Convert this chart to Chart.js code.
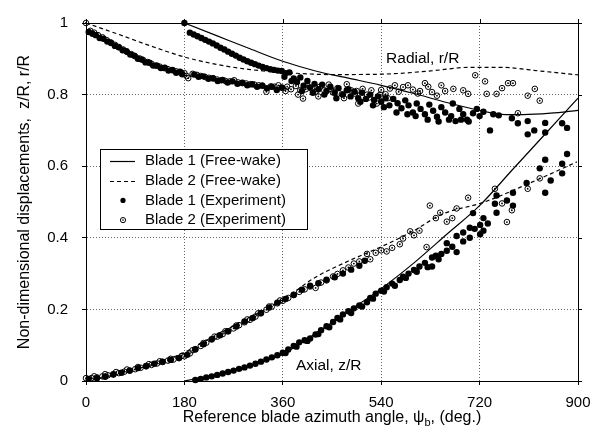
<!DOCTYPE html>
<html lang="en">
<head>
  <meta charset="UTF-8">
  <title>Blade tip displacements</title>
  <style>
    html, body { margin: 0; padding: 0; background: #fff; }
    .chartBox { width: 603px; height: 440px; position: relative; }
  </style>
</head>
<body>
  <div class="chartBox"><canvas id="wakeChart"></canvas></div>

  <script src="https://cdn.jsdelivr.net/npm/chart.js"></script>
  <script>
    // Axis ticks
    const angleTicks = [0, 180, 360, 540, 720, 900];
    const dispTicks = [0, 0.2, 0.4, 0.6, 0.8, 1];

    const legendLabels = ['Blade 1 (Free-wake)', 'Blade 2 (Free-wake)', 'Blade 1 (Experiment)', 'Blade 2 (Experiment)'];

    // Free-wake predictions
    const fw1RadialAngle = [180, 240, 300, 360, 420, 480, 540, 600, 660, 720, 760, 800, 850, 900];
    const fw1RadialDisp  = [1.0, 0.964, 0.928, 0.893, 0.866, 0.846, 0.826, 0.803, 0.778, 0.756, 0.745, 0.744, 0.748, 0.756];
    const fw2RadialAngle = [0, 60, 120, 180, 240, 300, 360, 450, 540, 630, 700, 760, 830, 900];
    const fw2RadialDisp  = [1.0, 0.968, 0.935, 0.905, 0.884, 0.870, 0.862, 0.856, 0.857, 0.866, 0.876, 0.876, 0.866, 0.855];
    const fw1AxialAngle  = [180, 240, 300, 360, 420, 480, 540, 600, 660, 720, 780, 840, 900];
    const fw1AxialDisp   = [0, 0.018, 0.042, 0.075, 0.133, 0.195, 0.258, 0.330, 0.410, 0.490, 0.590, 0.690, 0.790];
    const fw2AxialAngle  = [0, 60, 120, 180, 240, 300, 360, 420, 480, 540, 600, 650, 727, 812, 898];
    const fw2AxialDisp   = [0, 0.020, 0.046, 0.080, 0.130, 0.178, 0.227, 0.290, 0.335, 0.375, 0.420, 0.465, 0.499, 0.553, 0.612];

    // Experiment, blade 1 (filled)
    const b1RadialAngle = [
      5, 18, 32, 46, 60, 74, 88, 102, 116, 130,
      144, 158, 172, 198, 215, 232, 250, 268, 286, 304,
      322, 340, 358, 180, 190, 197, 204, 211, 218, 225,
      232, 239, 246, 253, 260, 267, 274, 281, 288, 295,
      302, 309, 316, 323, 330, 337, 344, 351, 358, 365,
      372, 380, 386, 392, 398, 405, 410, 418, 425, 432,
      440, 447, 455, 462, 470, 477, 484, 491, 498, 505,
      512, 520, 527, 534, 540, 548, 555, 562, 570, 577,
      584, 590, 598, 605, 612, 620, 628, 635, 642, 650,
      657, 664, 671, 676, 683, 690, 697, 708, 715, 720,
      727, 739, 745, 755, 779, 790, 808, 808, 820, 840,
      840, 871, 880,
      12, 25, 39, 53, 67, 81, 95, 109, 123, 137,
      151, 165, 176, 206, 224, 241, 259, 277, 295, 313,
      331, 349, 363, 376, 395, 415, 436, 458, 480, 502,
      525, 545, 568, 588, 603, 625, 645, 668, 686, 700];
    const b1RadialDisp = [
      0.975, 0.966, 0.956, 0.944, 0.932, 0.921, 0.909, 0.898, 0.889, 0.881,
      0.875, 0.869, 0.864, 0.856, 0.851, 0.846, 0.841, 0.837, 0.833, 0.829,
      0.825, 0.822, 0.820, 1.0, 0.973, 0.968, 0.963, 0.958, 0.953, 0.948,
      0.943, 0.937, 0.931, 0.926, 0.920, 0.914, 0.909, 0.903, 0.898, 0.893,
      0.889, 0.885, 0.881, 0.877, 0.874, 0.871, 0.869, 0.867, 0.866, 0.860,
      0.862, 0.845, 0.835, 0.848, 0.825, 0.838, 0.820, 0.830, 0.815, 0.828,
      0.810, 0.822, 0.805, 0.818, 0.800, 0.812, 0.795, 0.808, 0.790, 0.805,
      0.788, 0.800, 0.785, 0.795, 0.780, 0.790, 0.770, 0.788, 0.776, 0.762,
      0.784, 0.770, 0.750, 0.775, 0.760, 0.745, 0.772, 0.755, 0.738, 0.765,
      0.750, 0.730, 0.775, 0.726, 0.760, 0.745, 0.730, 0.748, 0.760, 0.740,
      0.752, 0.700, 0.745, 0.742, 0.734, 0.720, 0.726, 0.689, 0.700, 0.721,
      0.694, 0.720, 0.707,
      0.970, 0.958, 0.948, 0.936, 0.924, 0.912, 0.900, 0.890, 0.881, 0.874,
      0.867, 0.861, 0.857, 0.850, 0.844, 0.838, 0.834, 0.830, 0.826, 0.822,
      0.818, 0.813, 0.850, 0.838, 0.810, 0.805, 0.800, 0.790, 0.815, 0.780,
      0.770, 0.765, 0.750, 0.745, 0.740, 0.730, 0.725, 0.740, 0.730, 0.725];
    const b1AxialAngle = [
      200, 210, 220, 230, 240, 250, 260, 270, 280, 290,
      300, 310, 320, 330, 340, 350, 360, 370, 380, 390,
      400, 410, 420, 430, 440, 452, 460, 470, 480, 490,
      500, 514, 520, 530, 540, 550, 560, 574, 580, 590,
      600, 610, 620, 633, 633, 640, 650, 660, 660, 670,
      678, 678, 690, 690, 702, 702, 711, 721, 721, 708,
      727, 727, 735, 748, 751, 751, 770, 781, 781, 806,
      830, 840, 840, 850, 871, 871, 880,
      365, 385, 405, 425, 445, 465, 485, 505, 525, 545,
      565, 585, 605, 625, 645,
      5, 20, 35, 50, 65, 80, 95, 110, 125, 140,
      155, 170, 185, 200, 215, 230, 245, 260, 275, 290,
      305, 320, 335, 350, 365, 380, 395, 410, 425, 440,
      455, 470, 485, 500, 510];
    const b1AxialDisp = [
      0.003, 0.006, 0.010, 0.013, 0.017, 0.021, 0.025, 0.029, 0.034, 0.038,
      0.043, 0.048, 0.054, 0.060, 0.066, 0.072, 0.079, 0.088, 0.098, 0.108,
      0.114, 0.119, 0.130, 0.142, 0.153, 0.165, 0.176, 0.186, 0.195, 0.203,
      0.211, 0.220, 0.232, 0.244, 0.252, 0.262, 0.272, 0.282, 0.291, 0.300,
      0.310, 0.320, 0.330, 0.320, 0.345, 0.350, 0.355, 0.364, 0.385, 0.375,
      0.360, 0.405, 0.390, 0.415, 0.400, 0.428, 0.425, 0.410, 0.436, 0.469,
      0.455, 0.420, 0.440, 0.495, 0.518, 0.470, 0.504, 0.526, 0.490, 0.553,
      0.594, 0.618, 0.526, 0.560, 0.607, 0.580, 0.634,
      0.078, 0.096, 0.112, 0.131, 0.150, 0.172, 0.190, 0.208, 0.230, 0.250,
      0.266, 0.288, 0.305, 0.318, 0.340,
      0.006, 0.008, 0.012, 0.018, 0.023, 0.029, 0.036, 0.042, 0.048, 0.054,
      0.059, 0.064, 0.073, 0.089, 0.103, 0.117, 0.128, 0.139, 0.152, 0.166,
      0.176, 0.190, 0.205, 0.219, 0.229, 0.241, 0.255, 0.266, 0.273, 0.283,
      0.290, 0.300, 0.311, 0.322, 0.336];

    // Experiment, blade 2 (open)
    const b2RadialAngle = [
      0, 8, 15, 22, 30, 38, 45, 53, 60, 68,
      75, 83, 90, 98, 105, 113, 120, 128, 135, 143,
      150, 158, 165, 173, 180, 184, 187, 195, 203, 210,
      218, 225, 233, 240, 248, 255, 263, 271, 278, 286,
      293, 301, 308, 316, 323, 330, 338, 345, 352, 360,
      368, 375, 384, 392, 397, 405, 413, 420, 428, 436,
      444, 452, 460, 468, 477, 485, 492, 498, 506, 514,
      522, 532, 540, 548, 556, 565, 572, 580, 589, 598,
      607, 611, 620, 626, 633, 642, 650, 657, 672, 690,
      699, 712, 730, 733, 751, 761, 772, 781, 790, 808,
      821, 830,
      365, 388, 402, 425, 448, 472, 495, 518, 538, 552];
    const b2RadialDisp = [
      1.0, 0.978, 0.973, 0.966, 0.960, 0.952, 0.946, 0.939, 0.933, 0.926,
      0.919, 0.913, 0.907, 0.901, 0.896, 0.891, 0.886, 0.881, 0.878, 0.874,
      0.871, 0.868, 0.865, 0.862, 0.860, 0.852, 0.846, 0.858, 0.855, 0.852,
      0.849, 0.847, 0.845, 0.842, 0.840, 0.838, 0.837, 0.840, 0.834, 0.832,
      0.831, 0.829, 0.828, 0.826, 0.825, 0.808, 0.823, 0.822, 0.826, 0.818,
      0.822, 0.815, 0.824, 0.812, 0.789, 0.826, 0.816, 0.808, 0.822, 0.812,
      0.828, 0.806, 0.818, 0.801, 0.829, 0.812, 0.803, 0.775, 0.816, 0.800,
      0.812, 0.775, 0.813, 0.801, 0.817, 0.826, 0.808, 0.821, 0.826, 0.814,
      0.803, 0.810, 0.832, 0.822, 0.807, 0.797, 0.826, 0.810, 0.816, 0.812,
      0.802, 0.854, 0.837, 0.802, 0.802, 0.818, 0.832, 0.832, 0.748, 0.797,
      0.816, 0.783,
      0.810, 0.800, 0.815, 0.795, 0.815, 0.790, 0.810, 0.792, 0.800, 0.790];
    const b2AxialAngle = [
      0, 10, 20, 30, 40, 50, 60, 70, 80, 90,
      100, 110, 120, 130, 140, 150, 160, 170, 180, 190,
      200, 210, 220, 230, 240, 250, 260, 270, 280, 290,
      300, 310, 320, 330, 340, 350, 360, 370, 380, 390,
      400, 410, 420, 430, 440, 452, 460, 470, 480, 490,
      500, 514, 520, 530, 540, 550, 560, 574, 580, 593,
      600, 610, 623, 629, 640, 648, 660, 670, 678, 699,
      748, 761, 770, 779, 808, 830,
      15, 35, 55, 75, 95, 115, 135, 155, 175, 195,
      215, 235, 255, 275, 295, 315, 335, 355];
    const b2AxialDisp = [
      0.008, 0.008, 0.010, 0.013, 0.016, 0.019, 0.022, 0.026, 0.029, 0.033,
      0.037, 0.041, 0.045, 0.049, 0.053, 0.057, 0.060, 0.064, 0.069, 0.077,
      0.088, 0.098, 0.107, 0.116, 0.124, 0.131, 0.139, 0.147, 0.156, 0.164,
      0.171, 0.180, 0.189, 0.199, 0.208, 0.217, 0.224, 0.232, 0.240, 0.249,
      0.256, 0.264, 0.260, 0.275, 0.281, 0.292, 0.299, 0.309, 0.317, 0.328,
      0.334, 0.355, 0.340, 0.358, 0.365, 0.362, 0.372, 0.382, 0.398, 0.418,
      0.407, 0.420, 0.374, 0.490, 0.455, 0.470, 0.445, 0.455, 0.482, 0.512,
      0.537, 0.496, 0.444, 0.477, 0.537, 0.566,
      0.013, 0.019, 0.025, 0.032, 0.039, 0.047, 0.055, 0.062, 0.070, 0.086,
      0.106, 0.124, 0.139, 0.155, 0.172, 0.189, 0.208, 0.225];

    const FONT = '"Liberation Sans", Arial, sans-serif';

    function zip(xs, ys) {
      return xs.map((x, i) => ({ x: x, y: ys[i] }));
    }

    function lineSet(label, xs, ys, dash) {
      return {
        label: label,
        data: zip(xs, ys),
        showLine: true,
        borderColor: '#000',
        borderWidth: 1.2,
        borderDash: dash,
        pointRadius: 0,
        cubicInterpolationMode: 'monotone',
        fill: false
      };
    }

    const openPoints = zip(b2RadialAngle, b2RadialDisp).concat(zip(b2AxialAngle, b2AxialDisp));
    const filledPoints = zip(b1RadialAngle, b1RadialDisp).concat(zip(b1AxialAngle, b1AxialDisp));

    // frame, top/right ticks, axis titles, labels and legend
    const chrome = {
      id: 'chrome',
      afterDraw(chart) {
        const { ctx, chartArea: a, scales: { x, y } } = chart;
        ctx.save();
        ctx.strokeStyle = '#000';
        ctx.lineWidth = 1;
        ctx.setLineDash([]);
        ctx.strokeRect(Math.round(a.left) + 0.5, Math.round(a.top) + 0.5,
          Math.round(a.right - a.left), Math.round(a.bottom - a.top));
        ctx.beginPath();
        angleTicks.forEach(v => {
          const px = Math.round(x.getPixelForValue(v)) + 0.5;
          ctx.moveTo(px, a.top);
          ctx.lineTo(px, a.top - 4);
        });
        dispTicks.forEach(v => {
          const py = Math.round(y.getPixelForValue(v)) + 0.5;
          ctx.moveTo(a.right, py);
          ctx.lineTo(a.right + 4, py);
        });
        ctx.stroke();

        ctx.fillStyle = '#000';
        // y title
        ctx.font = '16px ' + FONT;
        ctx.textAlign = 'center';
        ctx.textBaseline = 'middle';
        ctx.save();
        ctx.translate(25, (a.top + a.bottom) / 2);
        ctx.rotate(-Math.PI / 2);
        ctx.fillText('Non-dimensional displacements,  z/R, r/R', 0, 0);
        ctx.restore();

        // x title with subscript b
        const p1 = 'Reference blade azimuth angle, \u03c8', sub = 'b', p2 = ', (deg.)';
        ctx.font = '16px ' + FONT;
        const w1 = ctx.measureText(p1).width, w2 = ctx.measureText(p2).width;
        ctx.font = '11px ' + FONT;
        const ws = ctx.measureText(sub).width;
        const tx = (a.left + a.right) / 2 - (w1 + ws + w2) / 2;
        const ty = 418;
        ctx.textAlign = 'left';
        ctx.font = '16px ' + FONT;
        ctx.fillText(p1, tx, ty);
        ctx.font = '11px ' + FONT;
        ctx.fillText(sub, tx + w1, ty + 5);
        ctx.font = '16px ' + FONT;
        ctx.fillText(p2, tx + w1 + ws, ty);

        // curve labels
        ctx.font = '15.5px ' + FONT;
        ctx.fillText('Radial, r/R', x.getPixelForValue(549), y.getPixelForValue(0.9));
        ctx.fillText('Axial, z/R', x.getPixelForValue(384), y.getPixelForValue(0.043));

        // legend
        const L = 100, T = 149, W = 207, H = 80;
        ctx.fillStyle = '#fff';
        ctx.fillRect(L, T, W, H);
        ctx.strokeRect(L + 0.5, T + 0.5, W, H);
        ctx.font = '15px ' + FONT;
        legendLabels.forEach((lab, i) => {
          const ry = T + 12 + i * 19.7;
          ctx.strokeStyle = '#000';
          ctx.fillStyle = '#000';
          if (i < 2) {
            ctx.lineWidth = 1.2;
            ctx.setLineDash(i === 0 ? [] : [4, 3]);
            ctx.beginPath();
            ctx.moveTo(110, Math.round(ry) + 0.5);
            ctx.lineTo(135, Math.round(ry) + 0.5);
            ctx.stroke();
            ctx.setLineDash([]);
          } else if (i === 2) {
            ctx.beginPath();
            ctx.arc(123, ry, 2.6, 0, Math.PI * 2);
            ctx.fill();
          } else {
            ctx.lineWidth = 1;
            ctx.beginPath();
            ctx.arc(123, ry, 2.6, 0, Math.PI * 2);
            ctx.stroke();
            ctx.beginPath();
            ctx.arc(123, ry, 0.8, 0, Math.PI * 2);
            ctx.fill();
          }
          ctx.fillText(lab, 145, ry);
        });
        ctx.restore();
      }
    };

    const tickLabel = v => String(Math.round(v * 10) / 10);

    new Chart(document.getElementById('wakeChart'), {
      type: 'scatter',
      data: {
        datasets: [
          lineSet(legendLabels[0], fw1RadialAngle, fw1RadialDisp, []),
          lineSet(legendLabels[0], fw1AxialAngle, fw1AxialDisp, []),
          lineSet(legendLabels[1], fw2RadialAngle, fw2RadialDisp, [4, 3]),
          lineSet(legendLabels[1], fw2AxialAngle, fw2AxialDisp, [4, 3]),
          {
            label: legendLabels[3] + ' centre',
            data: openPoints,
            pointStyle: 'circle',
            pointRadius: 0.9,
            backgroundColor: '#000',
            borderWidth: 0,
            clip: false
          },
          {
            label: legendLabels[3],
            data: openPoints,
            pointStyle: 'circle',
            pointRadius: 2.8,
            backgroundColor: 'rgba(255,255,255,0)',
            borderColor: '#000',
            borderWidth: 1,
            clip: false
          },
          {
            label: legendLabels[2],
            data: filledPoints,
            pointStyle: 'circle',
            pointRadius: 3.2,
            backgroundColor: '#000',
            borderColor: '#000',
            borderWidth: 0,
            clip: false
          }
        ]
      },
      options: {
        responsive: true,
        maintainAspectRatio: false,
        animation: false,
        layout: { padding: { left: 0, right: 25, top: 12, bottom: 0 } },
        plugins: {
          legend: { display: false },
          tooltip: { enabled: false }
        },
        scales: {
          x: {
            type: 'linear',
            min: 0,
            max: 900,
            afterFit: s => { s.height = 59; },
            afterBuildTicks: s => { s.ticks = angleTicks.map(v => ({ value: v })); },
            ticks: { color: '#000', padding: 9, font: { size: 15, family: FONT } },
            grid: { color: '#666', lineWidth: 1, tickLength: 4, tickColor: '#000' },
            border: { display: true, color: '#000', dash: [1, 2] }
          },
          y: {
            type: 'linear',
            min: 0,
            max: 1,
            afterFit: s => { s.width = 86; },
            afterBuildTicks: s => { s.ticks = dispTicks.map(v => ({ value: v })); },
            ticks: { color: '#000', padding: 14, font: { size: 15, family: FONT }, callback: tickLabel },
            grid: { color: '#666', lineWidth: 1, tickLength: 4, tickColor: '#000' },
            border: { display: true, color: '#000', dash: [1, 2] }
          }
        }
      },
      plugins: [chrome]
    });
  </script>
</body>
</html>
